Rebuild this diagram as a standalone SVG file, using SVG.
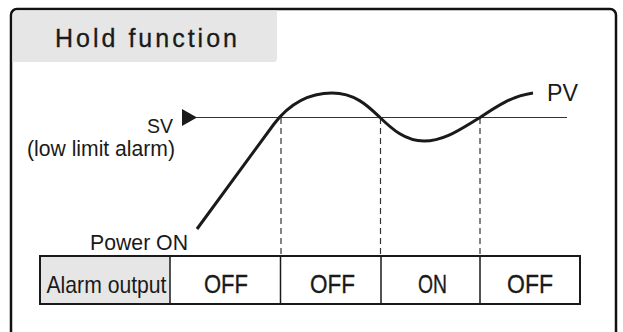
<svg xmlns="http://www.w3.org/2000/svg" width="623" height="332" viewBox="0 0 623 332">
<style>
text{font-family:"Liberation Sans",Arial,sans-serif;fill:#1a1a1a}
.dash{stroke:#333;stroke-width:1.2;stroke-dasharray:6 4;fill:none}
.cell{stroke:#1a1a1a;stroke-width:1.5}
.tv{font-size:25px;stroke:#1a1a1a;stroke-width:0.3}
</style>
<rect width="623" height="332" fill="#fff"/>
<g id="frame">
<rect x="11" y="9" width="605" height="340" rx="6" fill="none" stroke="#111" stroke-width="2.5"/>
<path d="M12.5,16 Q12.5,10.5 18,10.5 L277,10.5 L277,59 Q277,62 274,62 L12.5,62 Z" fill="#e6e6e6"/>
<text x="55" y="47" font-size="25" textLength="182" stroke="#1a1a1a" stroke-width="0.3">Hold function</text>
</g>
<g id="sv">
<path d="M182,109 L197,117.5 L182,126 Z" fill="#1a1a1a"/>
<line x1="196" y1="117.5" x2="567" y2="117.5" stroke="#333" stroke-width="1.2"/>
<text x="147" y="133" font-size="21" textLength="26" lengthAdjust="spacingAndGlyphs">SV</text>
<text x="27" y="156" font-size="22" textLength="148" lengthAdjust="spacingAndGlyphs">(low limit alarm)</text>
</g>
<g id="connectors">
<line class="dash" x1="281" y1="118" x2="281" y2="255"/>
<line class="dash" x1="380.5" y1="118" x2="380.5" y2="255"/>
<line class="dash" x1="480" y1="118" x2="480" y2="255"/>
</g>
<g id="pv">
<path d="M197,229 L274,124 C290,103 310,93 332,93 C355,93 368,106 380,117.5 C392,129 405,141 424,141 C445,141 462,128 480,117.5 C497,106 512,96 533,93" fill="none" stroke="#1a1a1a" stroke-width="3"/>
<text x="547" y="101" font-size="23" textLength="31" lengthAdjust="spacingAndGlyphs">PV</text>
</g>
<g id="power-on">
<text x="90" y="250" font-size="22" textLength="98" lengthAdjust="spacingAndGlyphs">Power ON</text>
</g>
<g id="table">
<rect x="40" y="256" width="130" height="48" fill="#e6e6e6"/>
<rect x="40" y="256" width="540" height="48" fill="none" stroke="#1a1a1a" stroke-width="2"/>
<line class="cell" x1="170" y1="256" x2="170" y2="304"/>
<line class="cell" x1="280.5" y1="256" x2="280.5" y2="304"/>
<line class="cell" x1="381" y1="256" x2="381" y2="304"/>
<line class="cell" x1="480" y1="256" x2="480" y2="304"/>
<text x="46.5" y="293" font-size="24" textLength="120" lengthAdjust="spacingAndGlyphs">Alarm output</text>
<text class="tv" x="204" y="293" textLength="44" lengthAdjust="spacingAndGlyphs">OFF</text>
<text class="tv" x="310" y="293" textLength="45" lengthAdjust="spacingAndGlyphs">OFF</text>
<text class="tv" x="418" y="293" textLength="29" lengthAdjust="spacingAndGlyphs">ON</text>
<text class="tv" x="507" y="293" textLength="46" lengthAdjust="spacingAndGlyphs">OFF</text>
</g>
</svg>
